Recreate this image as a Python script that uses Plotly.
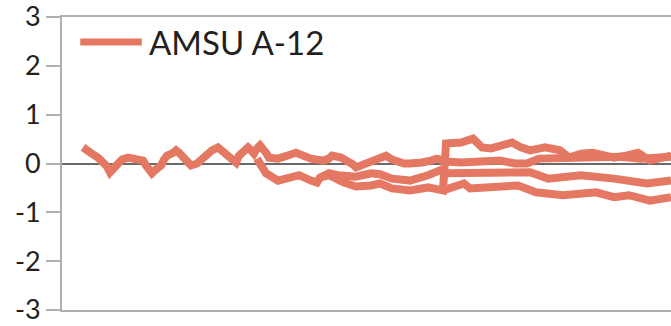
import plotly.graph_objects as go

# Time axis: month index; values: anomaly
s1_t = [7, 9, 10, 12, 13, 15, 16, 17, 19, 20, 22, 23, 25, 27, 28, 29, 30, 31, 33, 34, 35, 37, 38, 39, 40,
        42, 43, 45, 46, 47, 48, 50, 52, 53, 55, 56, 58, 59, 61, 62, 63, 64, 65, 66, 68, 69, 72, 74, 76, 78,
        80, 83, 85, 87, 89, 90, 93, 95, 97, 98, 101, 103, 106, 108, 110, 112, 114, 116, 118, 120, 123, 125,
        127, 128, 133, 137, 143, 146, 151, 155, 159, 166, 173, 179, 186, 193, 199, 203]
s1_v = [0.33, 0.27, 0.20, 0.12, 0.06, -0.06, -0.18, -0.10, 0.00, 0.08, 0.12, 0.10, 0.10, 0.06, -0.04, -0.14,
        -0.20, -0.14, -0.04, 0.08, 0.16, 0.22, 0.27, 0.22, 0.16, 0.06, -0.04, 0.00, 0.06, 0.14, 0.20, 0.27,
        0.33, 0.27, 0.20, 0.10, 0.02, 0.16, 0.27, 0.33, 0.27, 0.20, 0.31, 0.37, 0.22, 0.12, 0.10, 0.12, 0.18,
        0.22, 0.16, 0.10, 0.08, 0.06, 0.10, 0.16, 0.12, 0.06, -0.02, -0.08, 0.00, 0.06, 0.14, 0.16, 0.08, 0.02,
        0.00, 0.00, 0.00, 0.02, 0.06, 0.10, 0.06, 0.04, 0.02, 0.02, 0.06, 0.06, 0.00, 0.00, 0.10, 0.12, 0.10,
        0.12, 0.14, 0.10, 0.12, 0.14]

s2_t = [65, 68, 72, 76, 79, 83, 85, 86, 89, 92, 94, 98, 103, 106, 110, 116, 122, 126, 128, 139, 147, 156,
        162, 166, 173, 184, 195, 203]
s2_v = [0.10, -0.20, -0.35, -0.29, -0.24, -0.35, -0.39, -0.29, -0.20, -0.24, -0.24, -0.27, -0.20, -0.22,
        -0.31, -0.35, -0.24, -0.14, -0.20, -0.18, -0.20, -0.18, -0.31, -0.27, -0.24, -0.31, -0.41, -0.35]

s3_t = [86, 89, 94, 96, 98, 103, 106, 110, 116, 122, 125, 127, 128, 133, 137, 140, 143, 146, 150, 153, 156,
        161, 166, 169, 173, 177, 181, 184, 188, 192, 196, 199, 203]
s3_v = [-0.29, -0.24, -0.39, -0.45, -0.47, -0.45, -0.41, -0.51, -0.55, -0.49, -0.51, -0.55, 0.41, 0.43,
        0.51, 0.33, 0.31, 0.37, 0.43, 0.33, 0.27, 0.33, 0.27, 0.12, 0.20, 0.22, 0.16, 0.12, 0.16, 0.22, 0.06,
        0.12, 0.16]

s4_t = [127, 134, 136, 145, 152, 158, 167, 178, 184, 189, 196, 203]
s4_v = [-0.55, -0.41, -0.51, -0.49, -0.45, -0.59, -0.65, -0.59, -0.69, -0.65, -0.76, -0.69]

y_ticks = [-3, -2, -1, 0, 1, 2, 3]
y_tick_text = ["-3", "-2", "-1", "0", "1", "2", "3"]
legend_label = "AMSU A-12"

COLOR = "#E47862"
FONT = "Lato"

fig = go.Figure()
for t, v in [(s1_t, s1_v), (s2_t, s2_v), (s3_t, s3_v), (s4_t, s4_v)]:
    fig.add_trace(go.Scatter(x=t, y=v, mode="lines", line=dict(color=COLOR, width=8),
                             showlegend=False, hoverinfo="skip"))

# legend drawn as sample line + text
fig.add_shape(type="line", xref="paper", yref="paper", x0=0.030, x1=0.131, y0=0.915, y1=0.915,
              line=dict(color=COLOR, width=7))
fig.add_annotation(xref="paper", yref="paper", x=0.140, y=0.915, xanchor="left", yanchor="middle",
                   text=legend_label, showarrow=False, font=dict(family=FONT, size=33, color="#231f20"))

fig.update_layout(
    width=671, height=326,
    margin=dict(l=62, r=0, t=17, b=16),
    paper_bgcolor="white", plot_bgcolor="white",
    font=dict(family=FONT, color="#231f20"),
    showlegend=False,
)
fig.update_xaxes(range=[0, 203], showticklabels=False, ticks="", showgrid=False, zeroline=False,
                 showline=True, mirror=True, linecolor="#b0b0b0", linewidth=2, automargin=False)
fig.update_yaxes(range=[-3, 3], tickvals=y_ticks, ticktext=y_tick_text, ticks="outside", ticklen=14,
                 tickwidth=2, tickcolor="#b0b0b0", showgrid=False, zeroline=True, zerolinecolor="#6a6a6a",
                 zerolinewidth=2, showline=True, linecolor="#b0b0b0", linewidth=2, automargin=False,
                 ticklabeloverflow="allow",
                 tickfont=dict(family=FONT, size=27, color="#231f20"), ticklabelstandoff=0)

fig.write_html("out.html", config={"displayModeBar": False, "staticPlot": True},
               post_script="document.body.style.margin='0';document.body.style.overflow='hidden';")
